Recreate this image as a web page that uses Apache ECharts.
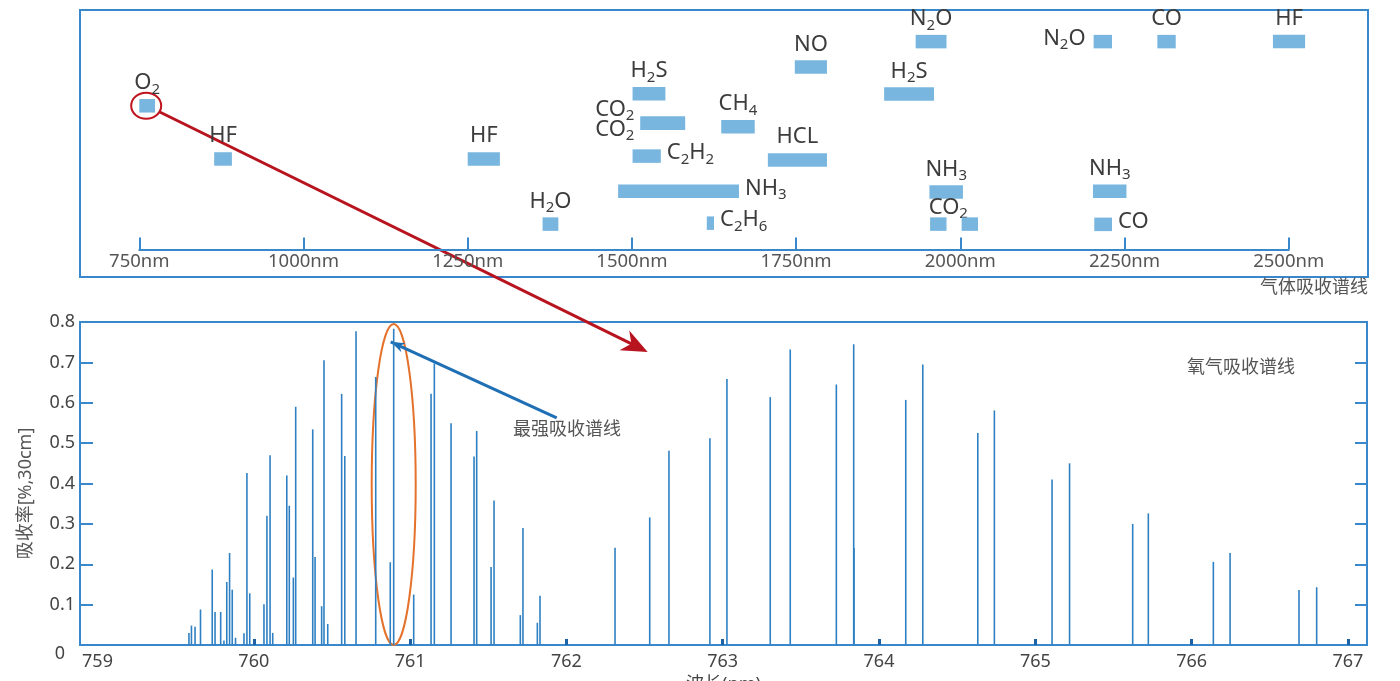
<!DOCTYPE html>
<html><head><meta charset="utf-8">
<script src="https://cdn.jsdelivr.net/npm/echarts@6/dist/echarts.min.js"></script>
<style>html,body{margin:0;padding:0;background:#fff}#c{width:1400px;height:681px}</style>
</head><body><div id="c"></div>
<script>
// ---------- top panel: gas absorption bands ----------
const gasNames = ['O2','HF','HF','H2O','H2S','CO2','CO2','C2H2','NH3','C2H6','CH4','NO','HCL','N2O','H2S','NH3','CO2','CO2','N2O','CO','HF','NH3','CO'];
const gasStart = [750,864,1250,1364,1501,1513,1513,1501,1479,1614,1636,1748,1707,1932,1884,1953,1954,2002,2203,2300,2476,2202,2204];
const gasEnd   = [774,891,1299,1388,1551,1581,1581,1544,1663,1625,1687,1797,1797,1979,1960,2004,1979,2027,2231,2328,2525,2253,2231];
const gasRow   = [6.0,3.78,3.78,1.06,6.5,5.27,5.27,3.9,2.43,1.1,5.13,7.62,3.74,8.68,6.49,2.4,1.06,1.06,8.68,8.68,8.68,2.43,1.05];
const wlTicks  = [750,1000,1250,1500,1750,2000,2250,2500];

// ---------- bottom panel: O2 absorption lines ----------
const o2Wl = [759.585,759.601,759.624,759.659,759.734,759.752,759.788,759.809,759.827,759.845,759.862,759.883,759.937,759.956,759.974,
  760.065,760.084,760.104,760.121,760.211,760.227,760.253,760.268,760.377,760.392,760.434,760.449,760.473,760.562,760.582,760.654,760.780,760.873,760.895,
  761.023,761.134,761.155,761.262,761.409,761.426,761.518,761.537,761.705,761.722,761.814,761.831,
  762.311,762.533,762.656,762.918,763.027,763.304,763.432,763.727,763.838,763.840,764.171,764.280,764.632,764.738,
  765.107,765.219,765.623,765.723,766.139,766.246,766.687,766.800];
const o2Abs = [0.030,0.048,0.045,0.088,0.187,0.082,0.082,0.011,0.156,0.228,0.137,0.018,0.029,0.426,0.128,
  0.101,0.320,0.470,0.030,0.420,0.345,0.167,0.590,0.534,0.218,0.096,0.705,0.052,0.622,0.468,0.777,0.664,0.205,0.783,
  0.125,0.622,0.697,0.549,0.467,0.530,0.193,0.358,0.074,0.290,0.055,0.122,
  0.241,0.316,0.481,0.512,0.659,0.614,0.732,0.645,0.745,0.240,0.607,0.695,0.525,0.581,
  0.410,0.450,0.300,0.326,0.206,0.228,0.136,0.143];
const nmTicks = [759,760,761,762,763,764,765,766,767];

// label placement (layout, not data)
const labelSide = ['top','top','top','top','top','leftUp','leftDown','right','right','right','top','top','top','top','top','top','topTight','none','left','top','top','top','right'];

const FONT = '"Noto Sans","Noto Sans CJK SC",sans-serif';
const BLUE = '#3a88cc';
const BAR = '#78b6df';
const TXT = '#3c3c3c';

function richName(n){
  return n.replace(/([A-Za-z]+)|(\d+)/g,(m,a,d)=> a ? '{n|'+a+'}' : '{s|'+d+'}');
}
const rich = {
  n:{fontSize:22,lineHeight:22,padding:[0,0,3,0],verticalAlign:'bottom',fill:TXT,fontFamily:FONT},
  s:{fontSize:15,lineHeight:15,verticalAlign:'bottom',fill:TXT,fontFamily:FONT}
};

const chart = echarts.init(document.getElementById('c'), null, {renderer:'canvas'});

const gasData = gasNames.map((n,i)=>[gasStart[i], gasEnd[i], gasRow[i], i]);

function renderGas(params, api){
  const i = api.value(3);
  const p0 = api.coord([api.value(0), api.value(2)]);
  const p1 = api.coord([api.value(1), api.value(2)]);
  const h = 13.5;
  const children = [{type:'rect', shape:{x:p0[0], y:p0[1]-h/2, width:p1[0]-p0[0], height:h}, style:{fill:BAR}}];
  const side = labelSide[i];
  if (side !== 'none'){
    let x, y, align='center', va='bottom';
    const cx=(p0[0]+p1[0])/2, top=p0[1]-h/2;
    if (side==='top'){x=cx;y=top-2;}
    else if (side==='topTight'){x=cx+10;y=top+4;}
    else if (side==='right'){x=p1[0]+6;y=p0[1];align='left';va='middle';}
    else if (side==='left'){x=p0[0]-8;y=p0[1];align='right';va='middle';}
    else if (side==='leftUp'){x=p0[0]-6;y=p0[1]-11;align='right';va='middle';}
    else if (side==='leftDown'){x=p0[0]-6;y=p0[1]+9;align='right';va='middle';}
    children.push({type:'text', style:{text:richName(gasNames[i]), x, y, align, verticalAlign:va, textAlign:align, textVerticalAlign:va, rich, fill:TXT, fontSize:22, fontFamily:FONT}});
  }
  return {type:'group', children};
}

const option = {
  animation:false,
  backgroundColor:'#fff',
  textStyle:{fontFamily:FONT},
  grid:[
    {left:80, right:33, top:322, bottom:36, show:true, borderColor:BLUE, borderWidth:2, containLabel:false, outerBoundsMode:'none'},
    {left:139.3, right:111.3, top:10, bottom:431.5, containLabel:false, outerBoundsMode:'none'}
  ],
  xAxis:[
    {gridIndex:0, type:'value', min:758.888, max:767.122,
     axisLine:{show:false}, splitLine:{show:false},
     axisTick:{show:true, inside:true, length:6, customValues:nmTicks.slice(1), lineStyle:{color:'#1d62a5', width:3}},
     axisLabel:{customValues:nmTicks, fontSize:18, color:'#444', margin:8, fontFamily:FONT},
     name:'波长(nm)', nameLocation:'middle', nameGap:31, nameTextStyle:{fontSize:18, color:'#444', fontFamily:FONT}},
    {gridIndex:1, type:'value', min:750, max:2500, interval:250,
     axisLine:{show:true, lineStyle:{color:BLUE, width:2}}, splitLine:{show:false},
     axisTick:{show:true, inside:true, length:12, lineStyle:{color:BLUE, width:2}},
     axisLabel:{formatter:v=>v+'nm', fontSize:18.5, color:'#555', margin:3, fontFamily:FONT, showMinLabel:true, showMaxLabel:true}}
  ],
  yAxis:[
    {gridIndex:0, type:'value', min:0, max:0.8, interval:0.1, position:'left',
     axisLine:{show:false}, splitLine:{show:false},
     axisTick:{show:true, inside:true, length:13, lineStyle:{color:BLUE, width:2}},
     axisLabel:{fontSize:18, color:'#444', margin:5, fontFamily:FONT,
       formatter:v=> v===0 ? '{z|0}' : v.toFixed(1),
       rich:{z:{fontSize:18, color:'#444', padding:[18,10,0,0], fontFamily:FONT}}},
     name:'吸收率[%,30cm]', nameLocation:'middle', nameGap:45, nameTextStyle:{fontSize:18, color:'#555', fontFamily:FONT, padding:[0,0,0,-20]}},
    {gridIndex:0, type:'value', min:0, max:0.8, interval:0.1, position:'right',
     axisLine:{show:false}, splitLine:{show:false}, axisLabel:{show:false},
     axisTick:{show:true, inside:true, length:12, lineStyle:{color:BLUE, width:2}}},
    {gridIndex:1, type:'value', min:0, max:10, show:false}
  ],
  series:[
    {type:'bar', xAxisIndex:0, yAxisIndex:0, barWidth:1.6,
     data:o2Wl.map((w,i)=>[w, o2Abs[i]]), itemStyle:{color:'#2f80c2'}, silent:true},
    {type:'custom', xAxisIndex:1, yAxisIndex:2, data:gasData, renderItem:renderGas, clip:false, silent:true}
  ]
};
chart.setOption(option);

// ---------- annotations anchored to data ----------
function arrowHead(T, S, L, W, color){
  const dx=T[0]-S[0], dy=T[1]-S[1], d=Math.hypot(dx,dy), ux=dx/d, uy=dy/d;
  const bx=T[0]-ux*L, by=T[1]-uy*L, nx=-uy*W/2, ny=ux*W/2;
  return {type:'polygon', shape:{points:[[T[0],T[1]],[bx+nx,by+ny],[T[0]-ux*L*0.7,T[1]-uy*L*0.7],[bx-nx,by-ny]]}, style:{fill:color}};
}
const o2c = chart.convertToPixel({seriesIndex:1}, [(gasStart[0]+gasEnd[0])/2, gasRow[0]]);
const redTip = chart.convertToPixel({seriesIndex:0}, [762.52, 0.726]);
let rdx=redTip[0]-o2c[0], rdy=redTip[1]-o2c[1], rd=Math.hypot(rdx,rdy);
const redStart=[o2c[0]+rdx/rd*14, o2c[1]+rdy/rd*14];
const maxI = o2Abs.indexOf(Math.max(...o2Abs));
const pk = chart.convertToPixel({seriesIndex:0}, [o2Wl[maxI], o2Abs[maxI]]);
const pTop = chart.convertToPixel({seriesIndex:0}, [o2Wl[maxI], 0.8]);
const pBot = chart.convertToPixel({seriesIndex:0}, [o2Wl[maxI], 0]);
const bTip=[pk[0]-3, pk[1]+13];
const bStart=[bTip[0]+166, bTip[1]+76];

chart.setOption({graphic:[
  {type:'rect', shape:{x:80, y:10, width:1288, height:267}, style:{fill:'none', stroke:BLUE, lineWidth:2}, silent:true},
  {type:'text', style:{text:'气体吸收谱线', x:1368, y:288, align:'right', verticalAlign:'middle', fill:'#555', fontSize:18, fontFamily:FONT}},
  {type:'text', style:{text:'氧气吸收谱线', x:1187, y:368, align:'left', verticalAlign:'middle', fill:'#555', fontSize:18, fontFamily:FONT}},
  {type:'text', style:{text:'最强吸收谱线', x:513, y:430, align:'left', verticalAlign:'middle', fill:'#555', fontSize:18, fontFamily:FONT}},
  {type:'ellipse', shape:{cx:o2c[0]-1, cy:o2c[1], rx:15, ry:13}, style:{fill:'none', stroke:'#c0141e', lineWidth:2}},
  {type:'line', shape:{x1:redStart[0], y1:redStart[1], x2:redTip[0]-(rdx/rd)*14, y2:redTip[1]-(rdy/rd)*14}, style:{stroke:'#b8141f', lineWidth:3}},
  arrowHead(redTip, redStart, 26, 22, '#b8141f'),
  {type:'ellipse', shape:{cx:pk[0], cy:(pTop[1]+pBot[1])/2+1, rx:22, ry:(pBot[1]-pTop[1])/2-1}, style:{fill:'none', stroke:'#e4722c', lineWidth:2}},
  {type:'line', shape:{x1:bStart[0], y1:bStart[1], x2:bTip[0], y2:bTip[1]}, style:{stroke:'#1f6fb5', lineWidth:3}},
  arrowHead(bTip, bStart, 14, 10, '#1f6fb5')
]});
</script></body></html>
